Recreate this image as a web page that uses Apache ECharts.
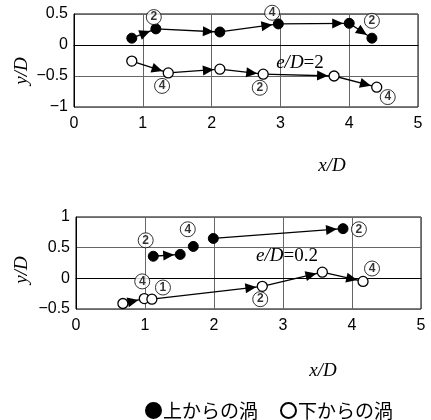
<!DOCTYPE html>
<html>
<head>
<meta charset="utf-8">
<script src="https://cdn.jsdelivr.net/npm/echarts@6/dist/echarts.min.js"></script>
<style>
  html, body { margin: 0; padding: 0; background: #fff; }
  #chart { width: 431px; height: 420px; }
</style>
</head>
<body>
<div id="chart"></div>
<script>
// Vortex centre trajectories, e/D = 2 (upper panel) and e/D = 0.2 (lower panel)
const xTicks = [0, 1, 2, 3, 4, 5];

// e/D = 2 : vortices shed from the upper side (filled) and lower side (open)
const topUpperX = [0.84, 1.19, 2.12, 2.97, 4.00, 4.33];
const topUpperY = [0.11, 0.26, 0.21, 0.34, 0.35, 0.11];
const topUpperSegs = [[0, 1], [1, 2], [2, 3], [3, 4], [4, 5]];
const topLowerX = [0.84, 1.37, 2.12, 2.75, 3.78, 4.40];
const topLowerY = [-0.26, -0.45, -0.39, -0.47, -0.50, -0.68];
const topLowerSegs = [[0, 1], [1, 2], [2, 3], [3, 4], [4, 5]];
// circled period numbers: [x, y, number]
const topTags = [[1.16, 0.45, '2'], [2.88, 0.52, '4'], [4.33, 0.39, '2'],
                 [1.28, -0.66, '4'], [2.70, -0.69, '2'], [4.56, -0.84, '4']];

// e/D = 0.2
const botUpperX = [1.12, 1.51, 1.70, 1.99, 3.87];
const botUpperY = [0.36, 0.39, 0.52, 0.65, 0.81];
const botUpperSegs = [[0, 1], [3, 4]];
const botLowerX = [0.68, 0.99, 1.10, 2.70, 3.57, 4.16];
const botLowerY = [-0.41, -0.33, -0.34, -0.13, 0.10, -0.05];
const botLowerSegs = [[0, 1], [2, 3], [3, 4], [4, 5]];
const botTags = [[1.01, 0.62, '2'], [1.62, 0.80, '4'], [4.10, 0.80, '2'],
                 [0.96, -0.05, '4'], [1.26, -0.15, '1'], [2.67, -0.34, '2'], [4.29, 0.16, '4']];

const NAME_UP = '上からの渦';
const NAME_DOWN = '下からの渦';

const SERIF = '"Liberation Serif", "Times New Roman", serif';
const SANS = '"Liberation Sans", Arial, sans-serif';
const CJK = '"Noto Sans CJK JP", sans-serif';

function pts(xs, ys) { return xs.map((x, i) => [x, ys[i]]); }
function segData(xs, ys, segs) { return segs.map(([a, b]) => [xs[a], ys[a], xs[b], ys[b]]); }
function minusFmt(v) { return String(v).replace('-', '\u2212'); }

// line segment with an arrowhead stopping just short of the next marker
function arrowItem(params, api) {
  const p1 = api.coord([api.value(0), api.value(1)]);
  const p2 = api.coord([api.value(2), api.value(3)]);
  const dx = p2[0] - p1[0], dy = p2[1] - p1[1];
  const len = Math.sqrt(dx * dx + dy * dy) || 1;
  const ux = dx / len, uy = dy / len;
  const back = 6, headL = 11, headW = 5;
  const tip = [p2[0] - ux * back, p2[1] - uy * back];
  const base = [tip[0] - ux * headL, tip[1] - uy * headL];
  const nx = -uy, ny = ux;
  return {
    type: 'group',
    children: [
      { type: 'line', shape: { x1: p1[0], y1: p1[1], x2: p2[0], y2: p2[1] },
        style: { stroke: '#000', lineWidth: 1.3 } },
      { type: 'polygon',
        shape: { points: [tip, [base[0] + nx * headW, base[1] + ny * headW],
                              [base[0] - nx * headW, base[1] - ny * headW]] },
        style: { fill: '#000' } }
    ]
  };
}

function xAxis(gridIndex) {
  return {
    gridIndex, type: 'value', min: 0, max: 5, interval: 1,
    axisLine: { show: true, lineStyle: { color: '#000', width: 1 } },
    axisTick: { show: false },
    splitLine: { show: true, lineStyle: { color: '#666', width: 1 } },
    axisLabel: { color: '#000', fontFamily: SANS, fontSize: 16, margin: 9 }
  };
}
function yAxis(gridIndex, min, max) {
  return {
    gridIndex, type: 'value', min, max, interval: 0.5,
    axisLine: { show: true, lineStyle: { color: '#000', width: 1 } },
    axisTick: { show: false },
    splitLine: { show: true, lineStyle: { color: '#666', width: 1 } },
    axisLabel: { color: '#000', fontFamily: SANS, fontSize: 16, margin: 6, formatter: minusFmt }
  };
}

function arrows(xi, xs, ys, segs) {
  return { type: 'custom', xAxisIndex: xi, yAxisIndex: xi, renderItem: arrowItem,
           encode: { x: [0, 2], y: [1, 3] }, data: segData(xs, ys, segs), z: 2,
           silent: true, clip: false };
}
function dots(xi, name, xs, ys, filled) {
  return { type: 'scatter', name, xAxisIndex: xi, yAxisIndex: xi, symbol: 'circle',
           symbolSize: 10, data: pts(xs, ys), z: 3, clip: false,
           itemStyle: filled ? { color: '#000', borderColor: '#000', borderWidth: 1, opacity: 1 }
                             : { color: '#fff', borderColor: '#000', borderWidth: 1.3, opacity: 1 } };
}
function tags(xi, list) {
  return { type: 'scatter', xAxisIndex: xi, yAxisIndex: xi, symbol: 'circle', symbolSize: 15,
           data: list, z: 4, clip: false, silent: true,
           itemStyle: { color: '#fff', borderColor: '#000', borderWidth: 1 },
           label: { show: true, position: 'inside', formatter: p => p.data[2],
                    color: '#000', fontFamily: SANS, fontSize: 12, fontWeight: 'bold' } };
}

const chart = echarts.init(document.getElementById('chart'), null, { renderer: 'canvas' });
chart.setOption({
  animation: false,
  backgroundColor: '#fff',
  grid: [
    { left: 74, top: 14, width: 344, height: 93, show: true, borderColor: '#000', borderWidth: 1 },
    { left: 76, top: 217, width: 345, height: 92, show: true, borderColor: '#000', borderWidth: 1 }
  ],
  xAxis: [xAxis(0), xAxis(1)],
  yAxis: [yAxis(0, -1, 0.5), yAxis(1, -0.5, 1)],
  legend: {
    data: [NAME_UP, NAME_DOWN], left: 140, top: 396, icon: 'circle',
    itemWidth: 15, itemHeight: 15, itemGap: 22,
    textStyle: { color: '#000', fontFamily: CJK, fontSize: 19, padding: [0, 0, 0, -3] }
  },
  series: [
    arrows(0, topUpperX, topUpperY, topUpperSegs),
    arrows(0, topLowerX, topLowerY, topLowerSegs),
    dots(0, NAME_UP, topUpperX, topUpperY, true),
    dots(0, NAME_DOWN, topLowerX, topLowerY, false),
    tags(0, topTags),
    arrows(1, botUpperX, botUpperY, botUpperSegs),
    arrows(1, botLowerX, botLowerY, botLowerSegs),
    dots(1, NAME_UP, botUpperX, botUpperY, true),
    dots(1, NAME_DOWN, botLowerX, botLowerY, false),
    tags(1, botTags)
  ],
  graphic: [
    { type: 'text', x: 22, y: 71, rotation: Math.PI / 2, z: 10,
      style: { text: 'y/D', font: 'italic 19px ' + SERIF, fill: '#000', align: 'center', verticalAlign: 'middle' } },
    { type: 'text', x: 22, y: 270, rotation: Math.PI / 2, z: 10,
      style: { text: 'y/D', font: 'italic 19px ' + SERIF, fill: '#000', align: 'center', verticalAlign: 'middle' } },
    { type: 'text', x: 332, y: 166, z: 10,
      style: { text: 'x/D', font: 'italic 19px ' + SERIF, fill: '#000', align: 'center', verticalAlign: 'middle' } },
    { type: 'text', x: 323, y: 371, z: 10,
      style: { text: 'x/D', font: 'italic 19px ' + SERIF, fill: '#000', align: 'center', verticalAlign: 'middle' } },
    { type: 'text', x: 300, y: 63, z: 10,
      style: { text: '{i|e/D}{r|=2}', align: 'center', verticalAlign: 'middle',
               rich: { i: { font: 'italic 19px ' + SERIF, fill: '#000' },
                       r: { font: '19px ' + SERIF, fill: '#000' } } } },
    { type: 'text', x: 287, y: 256, z: 10,
      style: { text: '{i|e/D}{r|=0.2}', align: 'center', verticalAlign: 'middle',
               rich: { i: { font: 'italic 19px ' + SERIF, fill: '#000' },
                       r: { font: '19px ' + SERIF, fill: '#000' } } } }
  ]
});
</script>
</body>
</html>
